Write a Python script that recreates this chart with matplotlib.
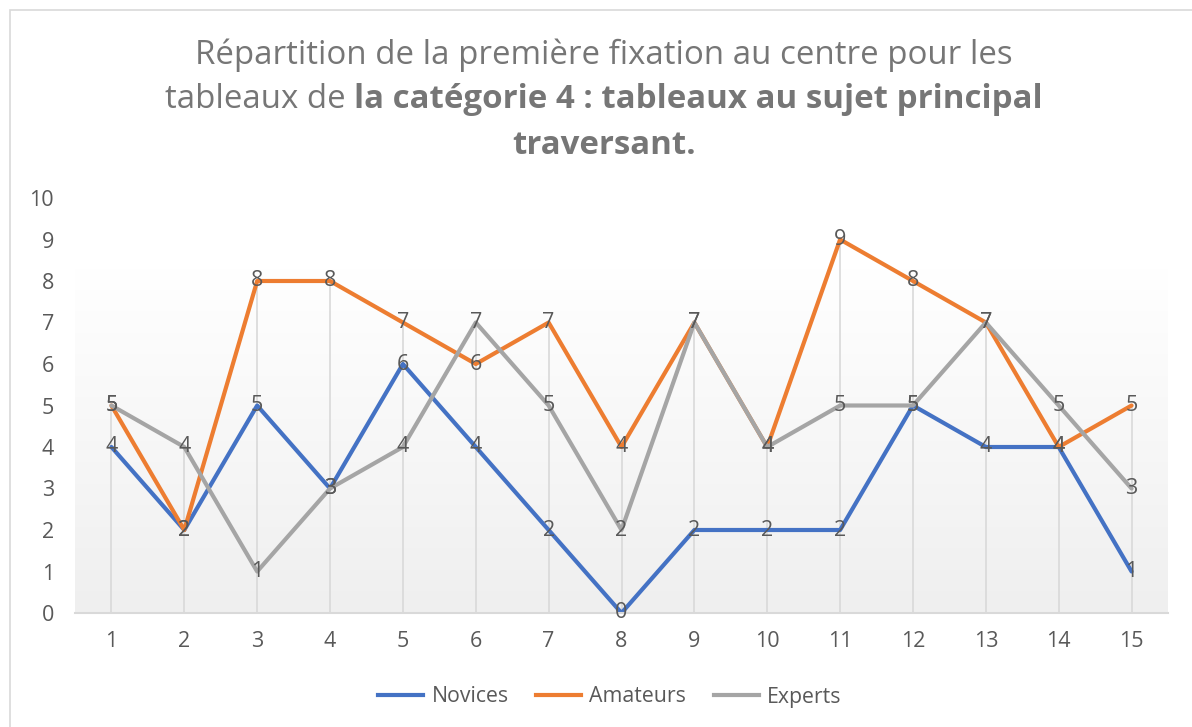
import numpy as np
import matplotlib.pyplot as plt
from matplotlib.colors import LinearSegmentedColormap
from matplotlib.lines import Line2D
from matplotlib.patches import Rectangle

categories = list(range(1, 16))
novices = [4, 2, 5, 3, 6, 4, 2, 0, 2, 2, 2, 5, 4, 4, 1]
amateurs = [5, 2, 8, 8, 7, 6, 7, 4, 7, 4, 9, 8, 7, 4, 5]
experts = [5, 4, 1, 3, 4, 7, 5, 2, 7, 4, 5, 5, 7, 5, 3]
series_names = ["Novices", "Amateurs", "Experts"]
yticks = list(range(0, 11))

plt.rcParams['font.family'] = ['Open Sans', 'DejaVu Sans']
txt = '#595959'
title_col = '#767676'
colors = ['#4472C4', '#ED7D31', '#A5A5A5']

fig = plt.figure(figsize=(11.92, 7.27), dpi=100)
fig.patches.append(Rectangle((10 / 1192, -0.1), 1.2, 1.1 - 10 / 727, transform=fig.transFigure,
                             fill=False, edgecolor='#d9d9d9', lw=1.2))

ax = fig.add_axes([75 / 1192, 1 - 613 / 727, (1168 - 75) / 1192, (613 - 198) / 727])

# plot area gradient, white at top -> light gray at bottom
cmap = LinearSegmentedColormap.from_list('g', ['#efefef', '#ffffff'])
grad = np.linspace(0, 1, 256).reshape(-1, 1)
ax.imshow(grad, extent=[0.5, 15.5, 0, 8.3], origin='lower', aspect='auto', cmap=cmap, zorder=0)

tops = np.maximum(np.maximum(novices, amateurs), experts)
ax.vlines(categories, 0, tops, color='#d9d9d9', lw=1.2, zorder=1)

for vals, c in zip([novices, amateurs, experts], colors):
    ax.plot(categories, vals, color=c, lw=3.0, solid_joinstyle='round', solid_capstyle='round', zorder=2)
for vals in [novices, amateurs, experts]:
    for x, v in zip(categories, vals):
        ax.text(x, v, str(v), ha='center', va='center', fontsize=15.5, color=txt, zorder=3)

ax.set_xlim(0.5, 15.5)
ax.set_ylim(0, 10)
ax.set_xticks(categories)
ax.set_yticks(yticks)
ax.tick_params(length=0, labelsize=15.5, labelcolor=txt)
ax.tick_params(axis='x', pad=13)
ax.tick_params(axis='y', pad=15)
for s in ['top', 'right', 'left']:
    ax.spines[s].set_visible(False)
ax.spines['bottom'].set_color('#d9d9d9')
ax.spines['bottom'].set_linewidth(1.5)

handles = [Line2D([0], [0], color=c, lw=3.0) for c in colors]
fig.legend(handles, series_names, loc='center', bbox_to_anchor=(610 / 1192, 1 - 697 / 727), ncol=3,
           frameon=False, fontsize=15.3, handlelength=2.1, handletextpad=0.4, columnspacing=1.3,
           labelcolor=txt)

# title with mixed weights
fs = 23.8
cx = 604 / 1192
fig.text(cx, 1 - 55 / 727, "Répartition de la première fixation au centre pour les",
         ha='center', va='center', fontsize=fs, color=title_col)
fig.text(cx, 1 - 145 / 727, "traversant.", ha='center', va='center', fontsize=fs,
         color=title_col, fontweight='bold')
fig.canvas.draw()
r = fig.canvas.get_renderer()
part1 = "tableaux de "
part2 = "la catégorie 4 : tableaux au sujet principal"
t1 = fig.text(0, 1 - 100 / 727, part1, ha='left', va='center', fontsize=fs, color=title_col)
t2 = fig.text(0, 1 - 100 / 727, part2, ha='left', va='center', fontsize=fs, color=title_col,
              fontweight='bold')
w1 = t1.get_window_extent(r).width / fig.bbox.width
w2 = t2.get_window_extent(r).width / fig.bbox.width
x0 = cx - (w1 + w2) / 2
t1.set_x(x0)
t2.set_x(x0 + w1)

fig.savefig('out.png', dpi=100)
